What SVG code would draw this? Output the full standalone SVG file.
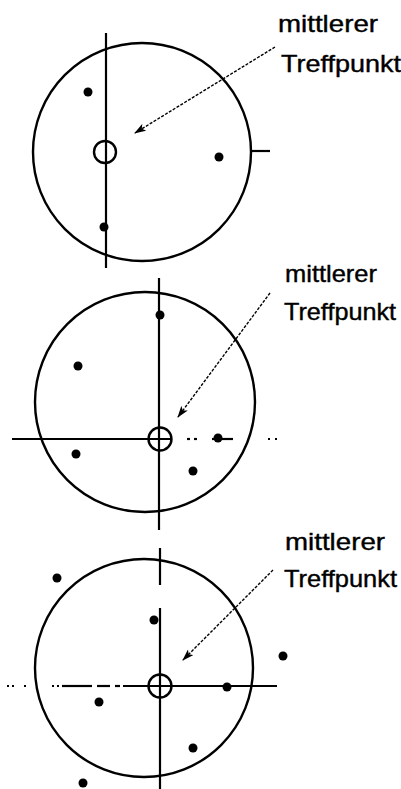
<svg xmlns="http://www.w3.org/2000/svg" width="401" height="789" viewBox="0 0 401 789">
<defs>
<marker id="ah" viewBox="0 0 12 8" refX="11" refY="4" markerWidth="12" markerHeight="8" markerUnits="userSpaceOnUse" orient="auto">
<path d="M0,0 L12,4 L0,8 L3,4 Z" fill="#000"/>
</marker>
<style>
.c{fill:none;stroke:#000;stroke-width:2.4}
.ax{fill:none;stroke:#000;stroke-width:2.2}
.sm{fill:none;stroke:#000;stroke-width:2.4}
.d{fill:#000}
.ar{fill:none;stroke:#000;stroke-width:1.4;stroke-dasharray:3 1.5}
.t{font-family:"Liberation Sans",Arial,sans-serif;font-size:24px;fill:#000;stroke:#000;stroke-width:0.4}
</style>
</defs>
<rect width="401" height="789" fill="#fff"/>

<g id="fig1">
<circle class="c" cx="142" cy="152" r="109"/>
<line class="ax" x1="106" y1="33" x2="106" y2="268"/>
<line class="ax" x1="251" y1="151" x2="270" y2="151"/>
<circle class="sm" cx="105" cy="152" r="11"/>
<circle class="d" cx="88" cy="92" r="4.5"/>
<circle class="d" cx="219" cy="157" r="4.5"/>
<circle class="d" cx="104" cy="227" r="4.5"/>
<text class="t" x="278" y="32" textLength="100" lengthAdjust="spacingAndGlyphs">mittlerer</text>
<text class="t" x="281" y="72" textLength="120" lengthAdjust="spacingAndGlyphs">Treffpunkt</text>
</g>

<g id="fig2">
<circle class="c" cx="145" cy="402" r="110"/>
<line class="ax" x1="159" y1="278" x2="159" y2="530"/>
<line class="ax" x1="12" y1="439" x2="172" y2="439"/>
<line class="ax" x1="212" y1="439" x2="233" y2="439"/>
<line class="ax" x1="187" y1="439" x2="190" y2="439"/>
<line class="ax" x1="194" y1="439" x2="197" y2="439"/>
<line class="ax" x1="268" y1="439" x2="270" y2="439"/>
<line class="ax" x1="275" y1="439" x2="277" y2="439"/>
<circle class="sm" cx="160" cy="439" r="11.5"/>
<circle class="d" cx="160" cy="315" r="4.5"/>
<circle class="d" cx="78" cy="366" r="4.5"/>
<circle class="d" cx="76" cy="454" r="4.5"/>
<circle class="d" cx="193" cy="471" r="4.5"/>
<circle class="d" cx="218" cy="438" r="4.5"/>
<text class="t" x="285" y="282" textLength="92" lengthAdjust="spacingAndGlyphs">mittlerer</text>
<text class="t" x="284" y="320" textLength="112" lengthAdjust="spacingAndGlyphs">Treffpunkt</text>
</g>

<g id="fig3">
<circle class="c" cx="144" cy="668" r="109"/>
<line class="ax" x1="160" y1="548" x2="160" y2="585"/>
<line class="ax" x1="160" y1="608" x2="160" y2="789"/>
<line class="ax" x1="7" y1="686" x2="9" y2="686"/>
<line class="ax" x1="12" y1="686" x2="14" y2="686"/>
<line class="ax" x1="24" y1="686" x2="26" y2="686"/>
<line class="ax" x1="52" y1="686" x2="54" y2="686"/>
<line class="ax" x1="57" y1="686" x2="59" y2="686"/>
<line class="ax" x1="62" y1="686" x2="92" y2="686"/>
<line class="ax" x1="97" y1="686" x2="110" y2="686"/>
<line class="ax" x1="115" y1="686" x2="120" y2="686"/>
<line class="ax" x1="123" y1="686" x2="277" y2="686"/>
<circle class="sm" cx="160" cy="686" r="11.5"/>
<circle class="d" cx="57" cy="578" r="4.5"/>
<circle class="d" cx="154" cy="620" r="4.5"/>
<circle class="d" cx="283" cy="656" r="4.5"/>
<circle class="d" cx="227" cy="687" r="4.5"/>
<circle class="d" cx="99" cy="702" r="4.5"/>
<circle class="d" cx="193" cy="748" r="4.5"/>
<circle class="d" cx="83" cy="783" r="4.5"/>
<text class="t" x="285" y="550" textLength="100" lengthAdjust="spacingAndGlyphs">mittlerer</text>
<text class="t" x="284" y="587" textLength="113" lengthAdjust="spacingAndGlyphs">Treffpunkt</text>
</g>

<g id="connectors">
<line class="ar" x1="275" y1="47" x2="135" y2="133" marker-end="url(#ah)"/>
<line class="ar" x1="270" y1="293" x2="178" y2="417" marker-end="url(#ah)"/>
<line class="ar" x1="273" y1="570" x2="183" y2="660" marker-end="url(#ah)"/>
</g>
</svg>
